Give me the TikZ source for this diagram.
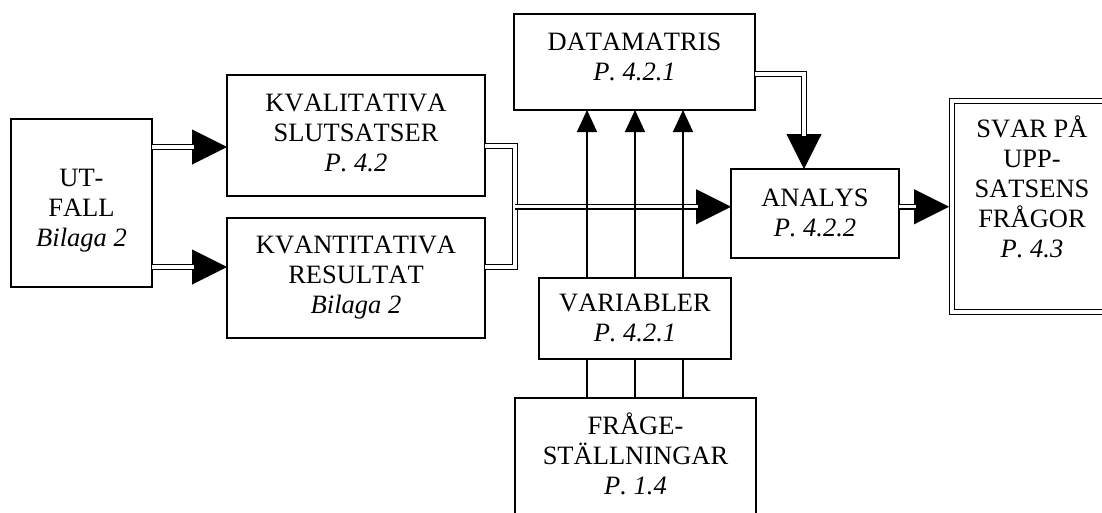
\documentclass[tikz,border=0pt]{standalone}
\usepackage{fontspec}
\setmainfont{Liberation Serif}[Kerning=Off]
\usetikzlibrary{arrows.meta,calc}
\begin{document}
\begin{tikzpicture}[x=1pt,y=-1pt,
  box/.style={draw, line width=1.5pt, inner sep=0pt, outer sep=0pt},
  dbox/.style={draw, double, double distance=3.5pt, line width=1.5pt, inner sep=0pt, outer sep=0pt},
  txt/.style={align=center, font=\fontsize{26.5}{30}\selectfont, inner sep=0pt, anchor=base},
  tipline/.style={line width=1pt, -{Triangle[length=35pt,width=35pt]}},
  dbl/.style={draw, double, double distance=3.2pt, line width=1.6pt},
  thinarrow/.style={line width=1.4pt, -{Triangle[length=22pt,width=20pt]}},
  thinline/.style={line width=1.4pt}]
\useasboundingbox (0,0) rectangle (1102,512);
\clip (0,0) rectangle (1102,512);
% boxes
\node[box, minimum width=141pt, minimum height=168pt] (utfall) at (81.5,203) {};
\node[box, minimum width=258pt, minimum height=121pt] (kval) at (356,135.5) {};
\node[box, minimum width=258pt, minimum height=120pt] (kvant) at (356,278) {};
\node[box, minimum width=241pt, minimum height=96pt] (datamatris) at (634.5,62) {};
\node[box, minimum width=168pt, minimum height=89pt] (analys) at (815,213.5) {};
\node[box, minimum width=192pt, minimum height=81pt] (variabler) at (635,318.5) {};
\node[box, minimum width=241pt, minimum height=130pt] (fraga) at (635.5,463) {};
\node[dbox, minimum width=160pt, minimum height=211pt] (svar) at (1032,206.5) {};
% texts (anchor base = baseline of the last line)
\node[txt] (t1) at ($(utfall.north)+(0,127.7)$) {UT-\\FALL\\\textit{Bilaga 2}};
\node[txt] (t2) at ($(kval.north)+(0,96.7)$) {KVALITATIVA\\SLUTSATSER\\\textit{P. 4.2}};
\node[txt] (t3) at ($(kvant.north)+(0,95)$) {KVANTITATIVA\\RESULTAT\\\textit{Bilaga 2}};
\node[txt] (t4) at ($(datamatris.north)+(0,66)$) {DATAMATRIS\\\textit{P. 4.2.1}};
\node[txt] (t5) at ($(analys.north)+(0,67.7)$) {ANALYS\\\textit{P. 4.2.2}};
\node[txt] (t6) at ($(variabler.north)+(0,63.7)$) {VARIABLER\\\textit{P. 4.2.1}};
\node[txt] (t7) at ($(fraga.north)+(0,96.3)$) {FRÅGE-\\STÄLLNINGAR\\\textit{P. 1.4}};
\node[txt] (t8) at ($(svar.north)+(0,156)$) {SVAR PÅ\\UPP-\\SATSENS\\FRÅGOR\\\textit{P. 4.3}};
% coordinates
\coordinate (a1) at ($(kval.west)+(0,11.5)$);
\coordinate (a2) at ($(kvant.west)+(0,-11)$);
\coordinate (k1) at ($(kval.east)+(0,10.5)$);
\coordinate (k2) at ($(kvant.east)+(0,-11)$);
\coordinate (j) at ($($(kval.east)!0.5!(kvant.east)$)+(30,0)$);
\coordinate (a3) at (analys.west |- j);
\coordinate (d1) at ($(datamatris.east)+(0,12)$);
\coordinate (d2) at ($(analys.north)+(-11,0)$);
\coordinate (s1) at ($(svar.west |- j)+(-3,0)$);
% UT-FALL arrows
\draw[tipline] (utfall.east |- a1) -- (a1);
\draw[dbl, shorten >=33pt] (utfall.east |- a1) -- (a1);
\draw[tipline] (utfall.east |- a2) -- (a2);
\draw[dbl, shorten >=33pt] (utfall.east |- a2) -- (a2);
% merge of the two results
\draw[dbl] (k1) -- (j |- k1) -- (j |- k2) -- (k2);
% to ANALYS
\draw[tipline] (j) -- (a3);
\draw[dbl, shorten >=33pt] (j) -- (a3);
% DATAMATRIS to ANALYS
\draw[tipline] (d1) -- (d2 |- d1) -- (d2);
\draw[dbl, shorten >=33pt] (d1) -- (d2 |- d1) -- (d2);
% ANALYS to SVAR
\draw[tipline] (analys.east |- j) -- (s1);
\draw[dbl, shorten >=33pt] (analys.east |- j) -- (s1);
% VARIABLER to DATAMATRIS, FRAGESTALLNINGAR to VARIABLER
\foreach \dx [count=\i] in {-48,0,48} {
  \coordinate (v\i) at ($(variabler.north)+(\dx,0)$);
  \coordinate (w\i) at ($(variabler.south)+(\dx,0)$);
  \draw[thinarrow] (v\i) -- (v\i |- datamatris.south);
  \draw[thinline] (w\i) -- (w\i |- fraga.north);
}
\end{tikzpicture}
\end{document}
